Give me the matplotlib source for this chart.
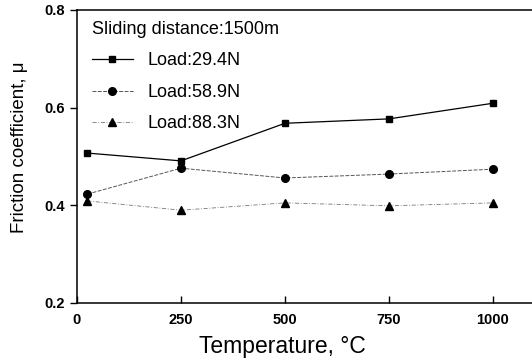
import matplotlib.pyplot as plt

plt.rcParams['font.family'] = ['Liberation Sans', 'DejaVu Sans']

# friction test results vs. temperature
temperature = [25, 250, 500, 750, 1000]
mu_29_4 = [0.507, 0.491, 0.568, 0.577, 0.609]
mu_58_9 = [0.423, 0.476, 0.456, 0.464, 0.474]
mu_88_3 = [0.409, 0.390, 0.405, 0.399, 0.405]

fig = plt.figure(figsize=(5.32, 3.63), dpi=100)
ax = fig.add_axes([0.1447, 0.1653, 0.86, 0.8072])

ax.plot(temperature, mu_29_4, '-', color='black', lw=0.9, marker='s', ms=5,
        label='Load:29.4N')
ax.plot(temperature, mu_58_9, '--', color='#555555', lw=0.7, marker='o', ms=5.5,
        mfc='black', mec='black', dashes=(4, 1.5), label='Load:58.9N')
ax.plot(temperature, mu_88_3, '-.', color='#777777', lw=0.6, marker='^', ms=5.5,
        mfc='black', mec='black', dashes=(5, 2, 1, 2), label='Load:88.3N')

ax.set_xlim(0, 1100)
ax.set_ylim(0.2, 0.8)
ax.set_xticks([0, 250, 500, 750, 1000])
ax.set_yticks([0.2, 0.4, 0.6, 0.8])
ax.set_yticklabels(['0.2', '0.4', '0.6', '0.8'])
ax.tick_params(axis='x', direction='in', length=5, width=1, labelsize=10.5, pad=7)
ax.tick_params(axis='y', direction='out', length=5, width=1, labelsize=10.5)
for lab in ax.get_xticklabels() + ax.get_yticklabels():
    lab.set_fontweight('bold')
for s in ax.spines.values():
    s.set_linewidth(1.1)

ax.set_xlabel('Temperature, °C', fontsize=16.5)
ax.xaxis.set_label_coords(0.448, -0.11)
ax.set_ylabel('Friction coefficient, μ', fontsize=13.5)
ax.yaxis.set_label_coords(-0.108, 0.53)

leg = ax.legend(title='Sliding distance:1500m', loc='upper left', frameon=False,
                bbox_to_anchor=(0.02, 0.981), borderaxespad=0,
                fontsize=13, title_fontsize=13, handlelength=2.3,
                handletextpad=0.8, borderpad=0.3,
                labelspacing=0.8, alignment='left')

fig.savefig('out.png', dpi=100)
